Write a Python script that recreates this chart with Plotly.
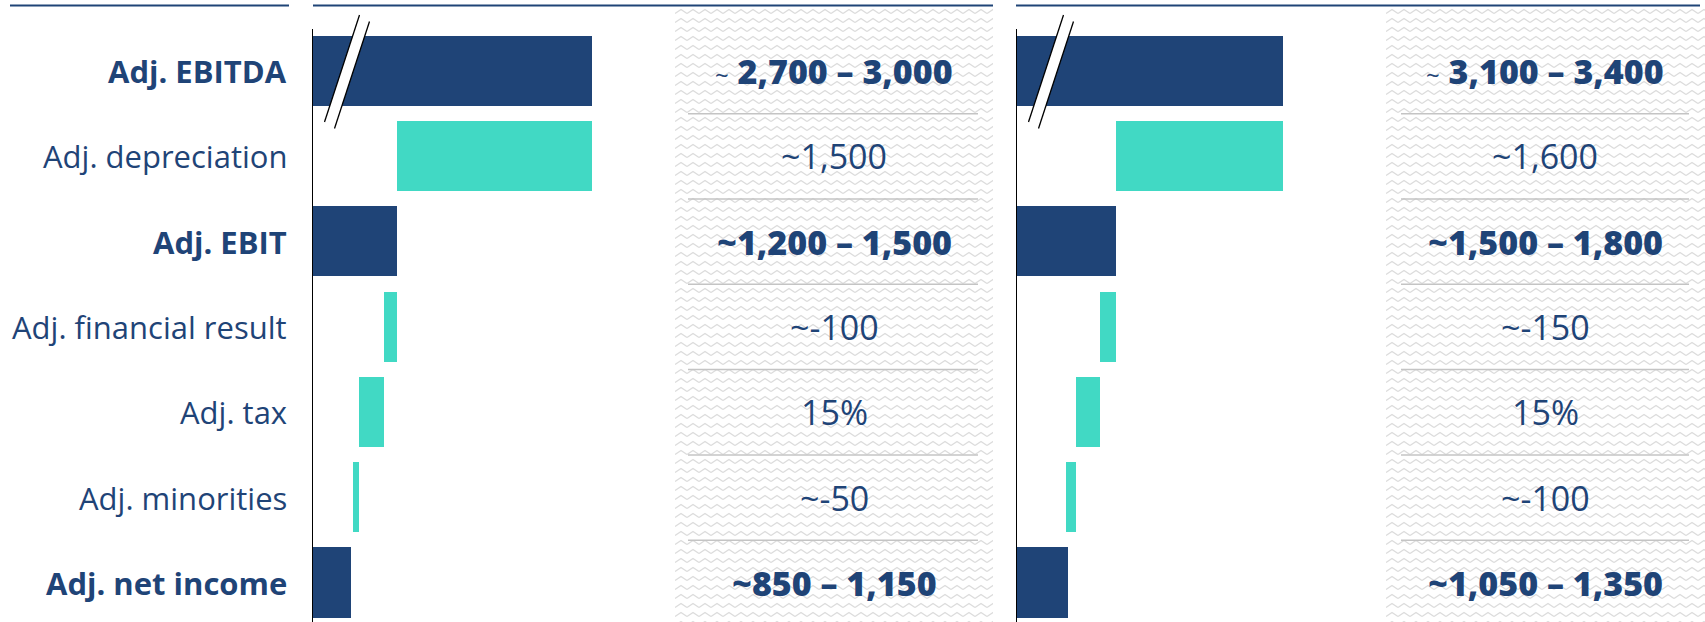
import base64
import plotly.graph_objects as go

W, H = 1705, 622

NAVY = "#1F4477"
TEAL = "#41D9C4"
GRID = "#C4C4C4"

# P&L bridge rows, top to bottom
categories = ["Adj. EBITDA", "Adj. depreciation", "Adj. EBIT", "Adj. financial result",
              "Adj. tax", "Adj. minorities", "Adj. net income"]
is_total = [True, False, True, False, False, False, True]

# Guidance texts shown next to each bridge
left_texts = ["~ 2,700 – 3,000", "~1,500", "~1,200 – 1,500", "~-100", "15%", "~-50", "~850 – 1,150"]
right_texts = ["~ 3,100 – 3,400", "~1,600", "~1,500 – 1,800", "~-150", "15%", "~-100", "~1,050 – 1,350"]

# Totals (range midpoints): EBITDA, EBIT, net income
left_totals = [2850, 1350, 1000]
right_totals = [3250, 1650, 1200]
# Steps: depreciation, financial result, tax rate, minorities
left_steps = [1500, -100, 0.15, -50]
right_steps = [1600, -150, 0.15, -100]

# Value axis starts above zero (broken axis)
axis_start = 700


def bridge(totals, steps):
    ebitda, ebit, net = totals
    depr, fin, tax_rate, mino = steps
    ebt = ebit + fin
    tax = ebt * tax_rate
    after_tax = ebt - tax
    after_min = after_tax + mino
    bases = [0, ebitda - depr, 0, ebt, after_tax, after_min, 0]
    lengths = [ebitda, depr, ebit, -fin, tax, -mino, net]
    return bases, lengths


rows = list(range(len(categories)))
colors = [NAVY if t else TEAL for t in is_total]

fig = go.Figure()
for (tot, st, xa) in [(left_totals, left_steps, "x"), (right_totals, right_steps, "x2")]:
    bases, lengths = bridge(tot, st)
    fig.add_trace(go.Bar(
        y=rows, x=lengths, base=bases, orientation="h",
        marker=dict(color=colors, line=dict(width=0)),
        width=0.824, xaxis=xa, yaxis="y", hoverinfo="skip", showlegend=False,
    ))


def px(x):
    return x / W


def py(y):
    return 1 - y / H


# Layout geometry in pixels
row_top_px = 28.3
row_pitch = 85.33
left_axis_px, left_end_px = 312, 660
right_axis_px, right_end_px = 1016, 1370
left_scale = 0.1301   # px per unit
right_scale = 0.1049

y_bottom = (H - row_top_px) / row_pitch - 0.5

fig.update_layout(
    width=W, height=H,
    margin=dict(l=0, r=0, t=0, b=0),
    paper_bgcolor="white", plot_bgcolor="rgba(0,0,0,0)",
    bargap=0,
    xaxis=dict(domain=[px(left_axis_px), px(left_end_px)],
               range=[axis_start, axis_start + (left_end_px - left_axis_px) / left_scale],
               visible=False, anchor="y"),
    xaxis2=dict(domain=[px(right_axis_px), px(right_end_px)],
                range=[axis_start, axis_start + (right_end_px - right_axis_px) / right_scale],
                visible=False, anchor="y"),
    yaxis=dict(domain=[0, py(row_top_px)], range=[y_bottom, -0.5], visible=False),
)

# Zig-zag textured panels behind the guidance values
def zigzag_uri(w, h, period=12, amp=4.0, gap=9.0, color="#DCDCDC"):
    mid = gap / 2
    pat = (f'<pattern id="z" width="{period}" height="{gap}" patternUnits="userSpaceOnUse">'
           f'<polyline points="0,{mid + amp / 2} {period / 2},{mid - amp / 2} {period},{mid + amp / 2}" '
           f'fill="none" stroke="{color}" stroke-width="1.4"/></pattern>')
    svg = (f'<svg xmlns="http://www.w3.org/2000/svg" width="{w}" height="{h}">'
           f'<defs>{pat}</defs><rect width="100%" height="100%" fill="url(#z)"/></svg>')
    return "data:image/svg+xml;base64," + base64.b64encode(svg.encode()).decode()


panels = [(675, 993), (1386, 1705)]
images = []
for x0, x1 in panels:
    images.append(dict(source=zigzag_uri(x1 - x0, H - 7), xref="paper", yref="paper",
                       x=px(x0), y=py(7), sizex=px(x1 - x0), sizey=(H - 7) / H,
                       xanchor="left", yanchor="top", sizing="stretch", layer="below"))
fig.update_layout(images=images)

shapes = []
# Header rules
for x0, x1 in [(10, 289), (313, 993), (1016, 1700)]:
    shapes.append(dict(type="line", xref="paper", yref="paper", x0=px(x0), x1=px(x1),
                       y0=py(5.5), y1=py(5.5), line=dict(color=NAVY, width=2)))
# Row separators inside the panels
for x0, x1 in [(688, 978), (1401, 1689)]:
    for i in range(len(categories) - 1):
        shapes.append(dict(type="line", xref="paper", yref="y", x0=px(x0), x1=px(x1),
                           y0=i + 0.5, y1=i + 0.5, line=dict(color=GRID, width=1.5)))
# Value axes
for xr in ["x", "x2"]:
    shapes.append(dict(type="line", xref=xr, yref="paper", x0=axis_start, x1=axis_start,
                       y0=0, y1=py(29), line=dict(color="black", width=2)))
# Axis break marks across the EBITDA bar
for ax in [left_axis_px, right_axis_px]:
    a = (ax + 47.5, 15.0)
    b = (ax + 12.5, 122.0)
    c = (ax + 22.5, 128.5)
    d = (ax + 57.5, 21.5)
    path = (f"M{px(a[0])},{py(a[1])} L{px(b[0])},{py(b[1])} "
            f"L{px(c[0])},{py(c[1])} L{px(d[0])},{py(d[1])} Z")
    shapes.append(dict(type="path", xref="paper", yref="paper", path=path,
                       fillcolor="white", line=dict(width=0)))
    for p, q in [(a, b), (d, c)]:
        shapes.append(dict(type="line", xref="paper", yref="paper",
                           x0=px(p[0]), y0=py(p[1]), x1=px(q[0]), y1=py(q[1]),
                           line=dict(color="black", width=1.3)))
fig.update_layout(shapes=shapes)

FONT = "Open Sans"
annotations = []


def fmt(text, bold):
    if not bold:
        return text
    if text.startswith("~ "):
        return "<span style='font-size:24px;font-weight:400'>~</span> " + text[2:]
    return text


for i, (cat, tot) in enumerate(zip(categories, is_total)):
    annotations.append(dict(
        x=px(289), y=i, xref="paper", yref="y", xanchor="right", yanchor="middle",
        text=cat, showarrow=False,
        font=dict(family=FONT, size=31, color=NAVY, weight=700 if tot else 400)))
    for cx, texts in [(834, left_texts), (1545, right_texts)]:
        annotations.append(dict(
            x=px(cx), y=i, xref="paper", yref="y", xanchor="center", yanchor="middle",
            text=fmt(texts[i], tot), showarrow=False,
            font=dict(family=FONT, size=34 if tot else 34, color=NAVY,
                      weight=800 if tot else 400)))
fig.update_layout(annotations=annotations)

fig.write_html("out.html")
